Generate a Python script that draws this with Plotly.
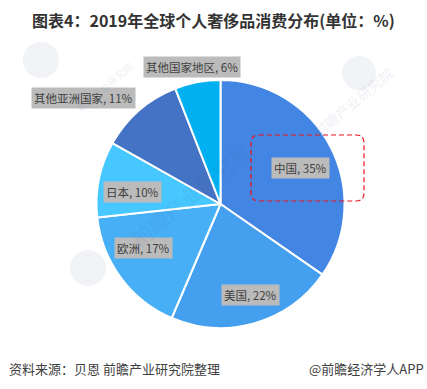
import plotly.graph_objects as go

W, H = 427, 389
categories = ["中国", "美国", "欧洲", "日本", "其他亚洲国家", "其他国家地区"]
values = [35, 22, 17, 10, 11, 6]
colors = ["#4285E3", "#44A0EE", "#47AFF5", "#47C7FF", "#4472C4", "#00B0F0"]
label_px = [(300, 168), (250, 295), (143, 248), (132, 192), (83, 98), (192, 67)]

TITLE = "图表4：2019年全球个人奢侈品消费分布(单位：%)"
SOURCE = "资料来源：贝恩 前瞻产业研究院整理"
BRAND = "@前瞻经济学人APP"
WATERMARK = "前瞻产业研究院"
CJK = "Noto Sans CJK SC"


def px(x):
    return x / W


def py(y):
    return 1 - y / H


fig = go.Figure(
    go.Pie(
        labels=categories,
        values=values,
        sort=False,
        direction="clockwise",
        rotation=0,
        marker=dict(colors=colors, line=dict(color="white", width=2)),
        textinfo="none",
        hoverinfo="label+value",
        domain=dict(x=[px(96.5), px(344.5)], y=[py(328), py(80)]),
        showlegend=False,
    )
)

annotations = []
for name, v, (x, y) in zip(categories, values, label_px):
    annotations.append(
        dict(
            x=px(x), y=py(y), xref="paper", yref="paper", xanchor="center", yanchor="middle",
            text=f"{name}, {v}%", showarrow=False,
            font=dict(family=CJK, size=11.5, color="#404040"),
            bgcolor="#BBBBBB", borderpad=2,
        )
    )

annotations += [
    dict(x=px(213.5), y=py(20), xref="paper", yref="paper", xanchor="center", yanchor="middle",
         text=f"<b>{TITLE}</b>", showarrow=False,
         font=dict(family=CJK, size=16, color="#333333")),
    dict(x=px(7), y=py(368), xref="paper", yref="paper", xanchor="left", yanchor="middle",
         text=SOURCE, showarrow=False, font=dict(family=CJK, size=13, color="#404040")),
    dict(x=px(426), y=py(368), xref="paper", yref="paper", xanchor="right", yanchor="middle",
         text=BRAND, showarrow=False, font=dict(family=CJK, size=13, color="#404040")),
]

for x, y, size, op in [(190, 195, 21, 0.08), (400, 60, 14, 0.08), (70, 55, 10, 0.08)]:
    annotations.append(
        dict(x=px(x), y=py(y), xref="paper", yref="paper", text=f"<b>{WATERMARK}</b>", showarrow=False,
             textangle=-40, font=dict(family=CJK, size=size, color=f"rgba(70,90,130,{op})"))
    )

shapes = [
    dict(type="path", xref="paper", yref="paper", layer="above",
         path=f"M {px(259)},{py(135)} L {px(356)},{py(135)} Q {px(364)},{py(135)} {px(364)},{py(143)} "
              f"L {px(364)},{py(193)} Q {px(364)},{py(201)} {px(356)},{py(201)} "
              f"L {px(259)},{py(201)} Q {px(251)},{py(201)} {px(251)},{py(193)} "
              f"L {px(251)},{py(143)} Q {px(251)},{py(135)} {px(259)},{py(135)} Z",
         line=dict(color="#F0101E", width=1.2, dash="5px,3px")),
]
for cx, cy, r in [(41, 60, 18), (359, 73, 17), (88, 268, 18)]:
    shapes.append(
        dict(type="circle", xref="paper", yref="paper", layer="below",
             x0=px(cx - r), x1=px(cx + r), y0=py(cy + r), y1=py(cy - r),
             fillcolor="#F1F3F7", line=dict(width=0))
    )

fig.update_layout(
    width=W, height=H,
    margin=dict(l=0, r=0, t=0, b=0),
    paper_bgcolor="white", plot_bgcolor="white",
    annotations=annotations, shapes=shapes,
)
fig.write_html(
    "out.html",
    config=dict(displayModeBar=False),
    post_script="document.body.style.margin='0';document.documentElement.style.overflow='hidden';",
)
